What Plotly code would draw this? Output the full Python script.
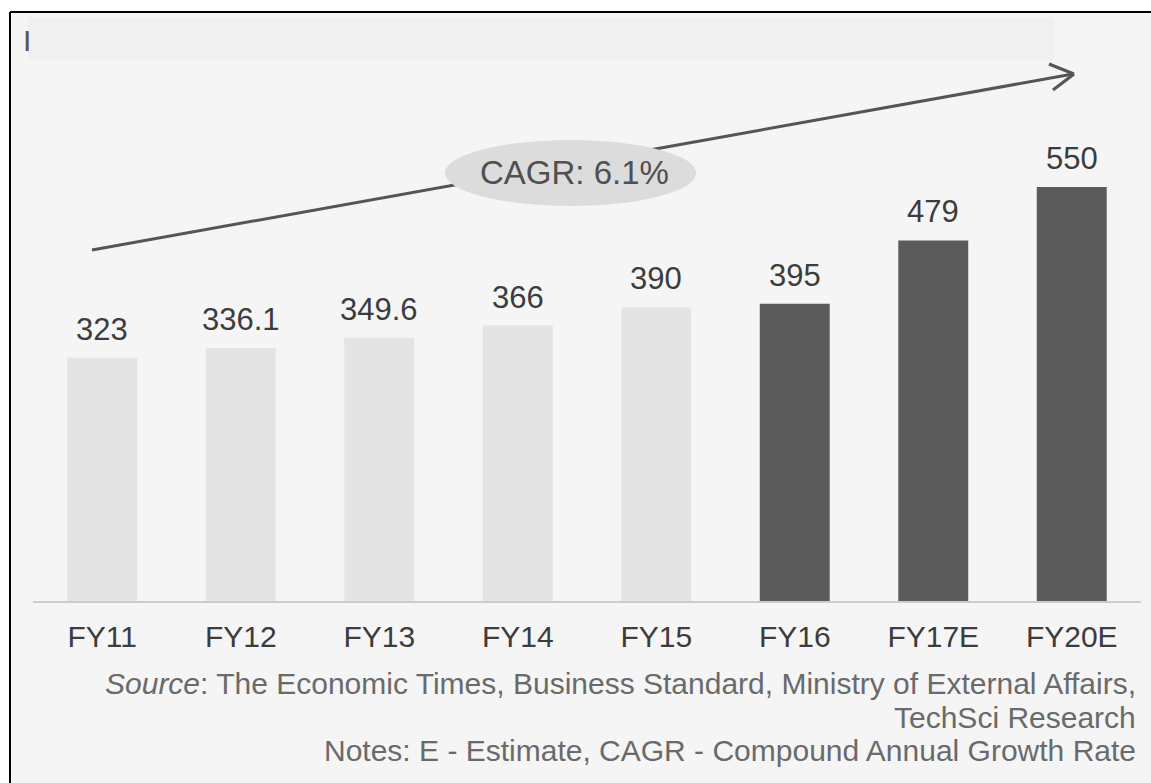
import plotly.graph_objects as go

categories = ["FY11", "FY12", "FY13", "FY14", "FY15", "FY16", "FY17E", "FY20E"]
values = [323, 336.1, 349.6, 366, 390, 395, 479, 550]
value_labels = ["323", "336.1", "349.6", "366", "390", "395", "479", "550"]
is_estimate_style = [False, False, False, False, False, True, True, True]

light = "#e4e4e4"
dark = "#5b5b5b"
colors = [dark if d else light for d in is_estimate_style]

FONT = "Liberation Sans, Arial, sans-serif"
W, H = 1151, 783
def px(x):
    return x / W
def py(y):
    return 1 - y / H

fig = go.Figure()
fig.add_trace(go.Bar(
    x=categories, y=values, marker=dict(color=colors, line=dict(width=0)),
    hoverinfo="skip", showlegend=False,
))

for c, v, t in zip(categories, values, value_labels):
    fig.add_annotation(x=c, y=v, text=t, showarrow=False, yanchor="bottom",
                       yshift=9, font=dict(size=31, color="#3c3c3c", family=FONT))

shapes = []
# background panel
shapes.append(dict(type="rect", xref="paper", yref="paper", x0=px(10), x1=1, y0=0, y1=py(12),
                   fillcolor="#f5f5f5", line=dict(width=0), layer="below"))
shapes.append(dict(type="rect", xref="paper", yref="paper", x0=px(28), x1=px(1055), y0=py(60), y1=py(17),
                   fillcolor="#f0f0f0", line=dict(width=0), layer="below"))
# border lines
shapes.append(dict(type="line", xref="paper", yref="paper", x0=px(10), x1=1, y0=py(12), y1=py(12),
                   line=dict(color="black", width=2)))
shapes.append(dict(type="line", xref="paper", yref="paper", x0=px(10), x1=px(10), y0=0, y1=py(12),
                   line=dict(color="black", width=2)))
# CAGR arrow
ac = "#555555"
shapes.append(dict(type="line", xref="paper", yref="paper", x0=px(92), y0=py(250), x1=px(1073), y1=py(74),
                   line=dict(color=ac, width=3)))
shapes.append(dict(type="line", xref="paper", yref="paper", x0=px(1049), y0=py(64), x1=px(1074), y1=py(74),
                   line=dict(color=ac, width=3)))
shapes.append(dict(type="line", xref="paper", yref="paper", x0=px(1053), y0=py(90), x1=px(1074), y1=py(74),
                   line=dict(color=ac, width=3)))
# ellipse
shapes.append(dict(type="circle", xref="paper", yref="paper", x0=px(445), x1=px(696), y0=py(206), y1=py(140),
                   fillcolor="#dcdcdc", line=dict(width=0)))

fig.update_layout(shapes=shapes)

fig.add_annotation(xref="paper", yref="paper", x=px(574), y=py(173), xanchor="center", yanchor="middle",
                   text="CAGR: 6.1%", showarrow=False,
                   font=dict(size=33, color="#505050", family=FONT))
fig.add_annotation(xref="paper", yref="paper", x=px(27), y=py(41), xanchor="center", yanchor="middle",
                   text="I", showarrow=False,
                   font=dict(size=30, color="#555555", family=FONT))

note_font = dict(size=30, color="#6a6a6a", family=FONT)
fig.add_annotation(xref="paper", yref="paper", x=px(1138), y=py(683), xanchor="right", yanchor="middle",
                   text="<i>Source</i>: The Economic Times, Business Standard, Ministry of External Affairs,",
                   showarrow=False, font=note_font)
fig.add_annotation(xref="paper", yref="paper", x=px(1138), y=py(717), xanchor="right", yanchor="middle",
                   text="TechSci Research", showarrow=False, font=note_font)
fig.add_annotation(xref="paper", yref="paper", x=px(1138), y=py(750), xanchor="right", yanchor="middle",
                   text="Notes: E - Estimate, CAGR - Compound Annual Growth Rate", showarrow=False, font=note_font)

fig.update_layout(
    width=W, height=H,
    margin=dict(l=0, r=0, t=0, b=0),
    paper_bgcolor="white", plot_bgcolor="rgba(0,0,0,0)",
    bargap=0.495,
    xaxis=dict(domain=[px(33), px(1141)], showline=True, linecolor="#cccccc", linewidth=2,
               showgrid=False, zeroline=False, ticks="", ticklabelstandoff=8,
               tickfont=dict(size=30, color="#3c3c3c", family=FONT)),
    yaxis=dict(domain=[py(601), 1], range=[0, 550 * 601 / 414], visible=False, showgrid=False),
)

fig.write_html("out.html")
